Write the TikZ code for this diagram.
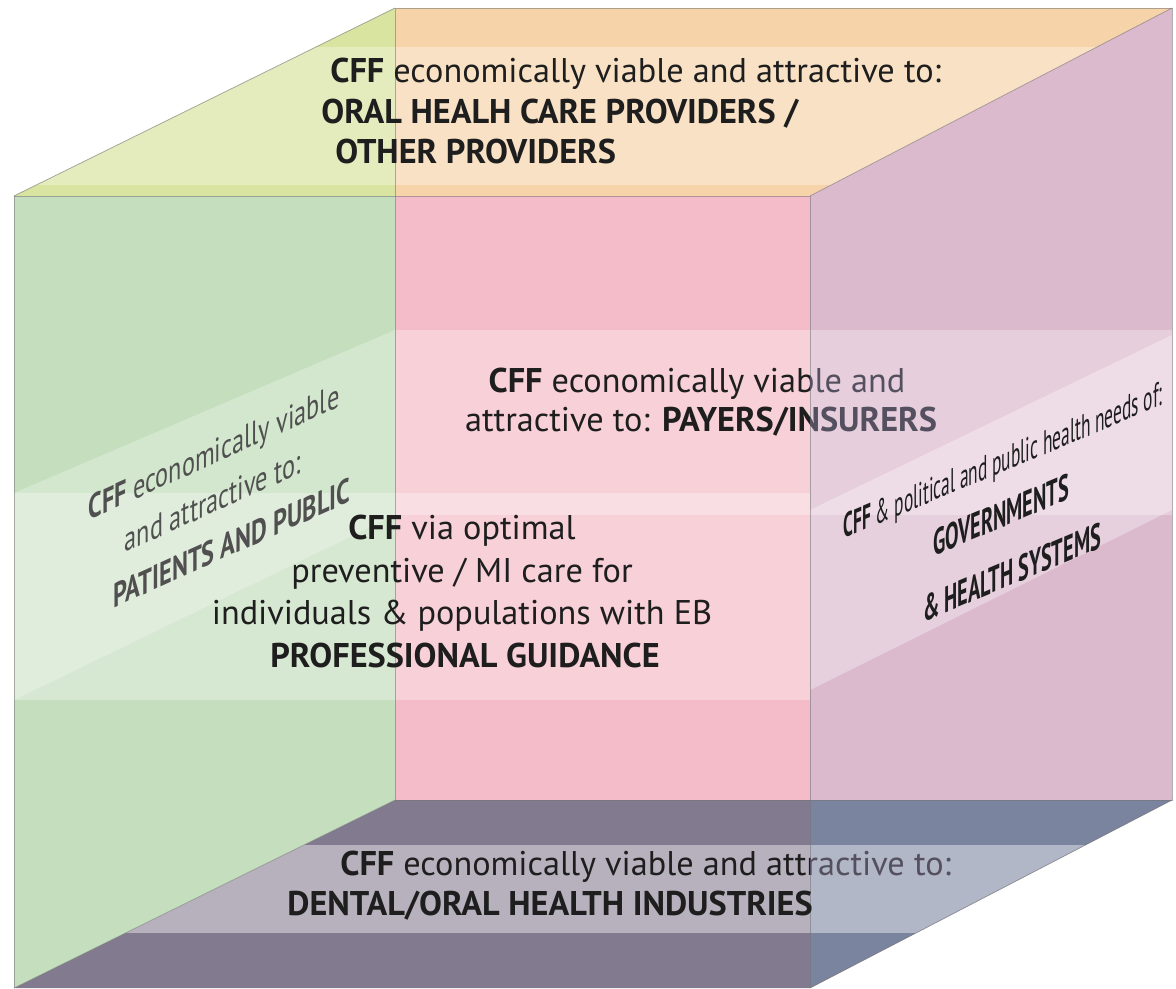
\documentclass[tikz,border=0pt]{standalone}
\usepackage{fontspec}
\setmainfont{PT Sans}
\usetikzlibrary{calc}
\definecolor{pinkface}{HTML}{F4BCC8}
\definecolor{topface}{HTML}{F6D3A9}
\definecolor{ygface}{HTML}{D8E4A0}
\definecolor{greenface}{HTML}{C5DFBE}
\definecolor{purpleface}{HTML}{DCBACD}
\definecolor{botface}{HTML}{827A8F}
\definecolor{blueface}{HTML}{7B849F}
\definecolor{txtcol}{HTML}{1E1E1E}
\definecolor{lefttxtcol}{HTML}{505050}
\definecolor{fadetxt}{HTML}{55505F}
\tikzset{
  edge/.style={draw=black!55, line width=0.45pt, opacity=0.55},
  band/.style={fill=white, opacity=#1},
  txt/.style={font=\fontsize{19.5}{23}\selectfont, text=txtcol, inner sep=0pt},
  lefttxt/.style={txt, text=lefttxtcol, cm={0.71,0.32,0,1,(0,0)}},
  righttxt/.style={txt, cm={0.51,0.214,0,1,(0,0)}},
  rightbig/.style={txt, font=\bfseries\fontsize{21}{24}\selectfont, cm={0.55,0.231,0,1,(0,0)}}
}
\begin{document}
\begin{tikzpicture}[x=0.02cm,y=-0.02cm]
\useasboundingbox[fill=white] (0,0) rectangle (1176,988);
% cube corners
\coordinate (BTL) at (395,8);   \coordinate (BTR) at (1172,8);
\coordinate (BBR) at (1172,800); \coordinate (BBL) at (395,800);
\coordinate (FTL) at (14,196);  \coordinate (FTR) at (810,196);
\coordinate (FBR) at (810,988); \coordinate (FBL) at (14,988);
\coordinate (LTC) at (395,196); \coordinate (RBC) at (810,800);
% faces
\fill[pinkface] (BTL) rectangle (BBR);
\fill[topface] (FTL) -- (BTL) -- (BTR) -- (FTR) -- cycle;
\fill[botface] (FBL) -- (BBL) -- (BBR) -- (FBR) -- cycle;
\fill[greenface] (FTL) -- (BTL) -- (BBL) -- (FBL) -- cycle;
\fill[ygface] (FTL) -- (BTL) -- (LTC) -- cycle;
\fill[purpleface] (FTR) -- (BTR) -- (BBR) -- (FBR) -- cycle;
\fill[blueface] (RBC) -- (BBR) -- (FBR) -- cycle;
% light bands
\begin{scope}
  \clip (FTL) -- (BTL) -- (BTR) -- (FTR) -- cycle;
  \fill[band=0.32] (0,47) rectangle (1176,185);
\end{scope}
\begin{scope}
  \clip (FBL) -- (BBL) -- (BBR) -- (FBR) -- cycle;
  \fill[band=0.42] (0,845) rectangle (1176,933);
\end{scope}
\fill[band=0.3] (395,330) rectangle (1172,515);
\fill[band=0.3] (14,493) rectangle (810,700);
\fill[band=0.25] (14,493) -- (395,330) -- (395,515) -- (14,700) -- cycle;
\fill[band=0.32] (810,510) -- (1172,335) -- (1172,510) -- (810,690) -- cycle;
% edges
\draw[edge] (FTL) -- (FTR) -- (FBR);
\draw[edge] (FTL) -- (FBL);
\draw[edge] (BTL) -- (BTR) -- (BBR) -- (BBL) -- cycle;
\draw[edge] (FTL) -- (BTL);
\draw[edge] (FTR) -- (BTR);
\draw[edge] (FBL) -- (BBL);
\draw[edge] (FBR) -- (BBR);
% top text
\node[txt, anchor=base west] (t1) at (330,82) {\textbf{CFF} economically viable and attractive to:};
\node[txt, anchor=base west] (t2) at (321,123) {\textbf{ORAL HEALH CARE PROVIDERS /}};
\node[txt, anchor=base west] (t3) at (335,163) {\textbf{OTHER PROVIDERS}};
% back text (faded where the right face lies over it)
\begin{scope}
  \clip (0,0) rectangle (810,988);
  \node[txt, anchor=base] (p1) at (697,392) {\textbf{CFF} economically viable and};
  \node[txt, anchor=base] (p2) at (701,431) {attractive to: \textbf{PAYERS/INSURERS}};
  \node[txt, anchor=base west] (b1) at (340,875) {\textbf{CFF} economically viable and attractive to:};
\end{scope}
\begin{scope}
  \clip (810,0) rectangle (1176,988);
  \node[txt, text=fadetxt, anchor=base] (p1r) at (697,392) {\textbf{CFF} economically viable and};
  \node[txt, text=fadetxt, anchor=base] (p2r) at (701,431) {attractive to: \textbf{PAYERS/INSURERS}};
  \node[txt, text=fadetxt, anchor=base west] (b1r) at (340,875) {\textbf{CFF} economically viable and attractive to:};
\end{scope}
% centre text
\node[txt, anchor=base] (c1) at (462,539) {\textbf{CFF} via optimal};
\node[txt, anchor=base] (c2) at (462,582) {preventive / MI care for};
\node[txt, anchor=base] (c3) at (462,624) {individuals \& populations with EB};
\node[txt, anchor=base] (c4) at (465,667) {\textbf{PROFESSIONAL GUIDANCE}};
% bottom text
\node[txt, anchor=base west] (b2) at (287,915) {\textbf{DENTAL/ORAL HEALTH INDUSTRIES}};
% left face text
\node[lefttxt] (l1) at (214,455) {\textbf{CFF} economically viable};
\node[lefttxt] (l2) at (213,501) {and attractive to:};
\node[lefttxt] (l3) at (232,543) {\textbf{PATIENTS AND PUBLIC}};
% right face text
\node[righttxt] (r1) at (1003,463) {\textbf{CFF} \& political and public health needs of:};
\node[rightbig] (r2) at (1001,515) {GOVERNMENTS};
\node[rightbig] (r3) at (1012,572) {\& HEALTH SYSTEMS};
\end{tikzpicture}
\end{document}
